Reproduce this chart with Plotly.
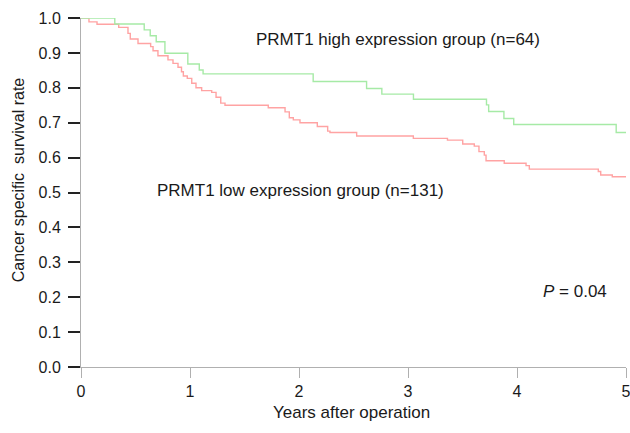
import plotly.graph_objects as go

# Kaplan-Meier step data (time in years, survival probability after each drop)
high_times = [0.0, 0.31, 0.58, 0.635, 0.69, 0.77, 0.98, 1.085, 1.12, 2.13, 2.62, 2.76, 3.05, 3.72, 3.74, 3.88, 3.97, 4.91, 5.0]
high_surv  = [1.0, 0.983, 0.966, 0.949, 0.932, 0.899, 0.868, 0.851, 0.840, 0.818, 0.798, 0.782, 0.767, 0.751, 0.732, 0.712, 0.695, 0.672, 0.672]

low_times = [0.0, 0.073, 0.147, 0.346, 0.431, 0.452, 0.523, 0.639, 0.661, 0.706, 0.798, 0.844, 0.890,
             0.922, 0.939, 0.975, 1.016, 1.055, 1.107, 1.199, 1.239, 1.282, 1.321, 1.718, 1.872, 1.911,
             1.948, 2.009, 2.168, 2.263, 2.284, 2.529, 3.049, 3.362, 3.502, 3.608, 3.651, 3.700, 3.716,
             3.883, 4.083, 4.113, 4.746, 4.768, 4.874, 5.0]
low_surv = [1.0, 0.989, 0.982, 0.973, 0.956, 0.940, 0.927, 0.918, 0.906, 0.892, 0.880, 0.870, 0.859,
            0.846, 0.834, 0.827, 0.813, 0.800, 0.792, 0.787, 0.773, 0.756, 0.750, 0.743, 0.731, 0.714,
            0.708, 0.700, 0.689, 0.676, 0.672, 0.662, 0.655, 0.650, 0.639, 0.633, 0.617, 0.607, 0.591,
            0.584, 0.577, 0.567, 0.560, 0.550, 0.545, 0.545]

x_ticks = [0, 1, 2, 3, 4, 5]
y_ticks = [0.0, 0.1, 0.2, 0.3, 0.4, 0.5, 0.6, 0.7, 0.8, 0.9, 1.0]
y_ticklabels = ["0.0", "0.1", "0.2", "0.3", "0.4", "0.5", "0.6", "0.7", "0.8", "0.9", "1.0"]

high_label = "PRMT1 high expression group (n=64)"
low_label = "PRMT1 low expression group (n=131)"
p_label = "<i>P</i> = 0.04"
x_title = "Years after operation"
y_title = "Cancer specific\u00a0\u00a0survival rate"

FONT = "Liberation Sans, Arial, sans-serif"
TXT = "#1a1a1a"

fig = go.Figure()
fig.add_trace(go.Scatter(x=low_times, y=low_surv, mode="lines", line_shape="hv",
                         line=dict(color="#ffa3a3", width=1.4), cliponaxis=False,
                         name="low", showlegend=False))
fig.add_trace(go.Scatter(x=high_times, y=high_surv, mode="lines", line_shape="hv",
                         line=dict(color="#a6eaa6", width=1.4), cliponaxis=False,
                         name="high", showlegend=False))

fig.add_annotation(x=1.587, y=0.937, xref="x", yref="y", text=high_label, showarrow=False,
                   xanchor="left", yanchor="middle", font=dict(family=FONT, size=17, color=TXT))
fig.add_annotation(x=0.68, y=0.507, xref="x", yref="y", text=low_label, showarrow=False,
                   xanchor="left", yanchor="middle", font=dict(family=FONT, size=17, color=TXT))
fig.add_annotation(x=4.22, y=0.215, xref="x", yref="y", text=p_label, showarrow=False,
                   xanchor="left", yanchor="middle", font=dict(family=FONT, size=17, color=TXT))

# axis titles
fig.add_annotation(x=0.497, y=0, xref="paper", yref="paper", yshift=-45, text=x_title,
                   showarrow=False, xanchor="center", yanchor="middle",
                   font=dict(family=FONT, size=17, color=TXT))
fig.add_annotation(x=0, y=0.535, xref="paper", yref="paper", xshift=-63, text=y_title,
                   textangle=-90, showarrow=False, xanchor="center", yanchor="middle",
                   font=dict(family=FONT, size=16, color=TXT))

fig.update_layout(
    width=630, height=433,
    margin=dict(l=81, r=4, t=18, b=66, autoexpand=False),
    paper_bgcolor="white", plot_bgcolor="white",
    font=dict(family=FONT, size=16, color=TXT),
    xaxis=dict(range=[0, 5], tickvals=x_ticks, ticktext=[str(v) for v in x_ticks],
               automargin=False, ticklabeloverflow="allow",
               showgrid=False, zeroline=False, showline=True, linecolor="#b0b0b0", linewidth=1,
               ticks="outside", ticklen=10, tickcolor="#b0b0b0", tickwidth=1,
               tickfont=dict(family=FONT, size=16, color=TXT)),
    yaxis=dict(range=[0, 1], tickvals=y_ticks, ticktext=y_ticklabels,
               automargin=False,
               showgrid=False, zeroline=False, showline=True, linecolor="#b0b0b0", linewidth=1,
               ticks="outside", ticklen=12, tickcolor="#222222", tickwidth=2,
               ticklabelstandoff=4,
               tickfont=dict(family=FONT, size=16, color=TXT)),
)

# remove the default 8px page margin so the figure sits at the window origin
fig.write_html("out.html",
               config={"displayModeBar": False},
               post_script="document.body.style.margin='0';document.body.style.overflow='hidden';")
